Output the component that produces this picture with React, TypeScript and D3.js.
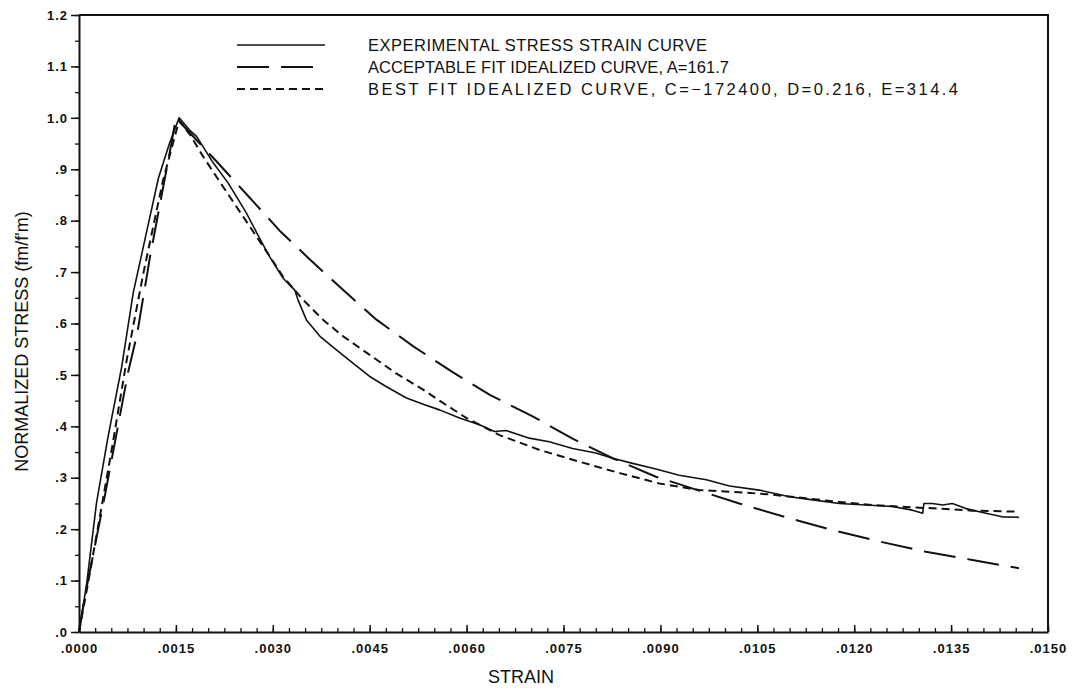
import * as d3 from "d3";
import React, { useEffect, useRef } from "react";

// experimental stress-strain curve
const expStrain = [0, 0.00012, 0.00027, 0.00045, 0.00066, 0.00084, 0.00102, 0.00123, 0.0014, 0.00155,
  0.00172, 0.00182, 0.00208, 0.00231, 0.00259, 0.00277, 0.00295, 0.00316, 0.00334, 0.00339,
  0.00352, 0.00373, 0.00398, 0.00424, 0.0045, 0.00476, 0.00507, 0.00535, 0.00558, 0.00589,
  0.0062, 0.00643, 0.00661, 0.00697, 0.00728, 0.00764, 0.008, 0.00826, 0.00857, 0.00893,
  0.00929, 0.00971, 0.01007, 0.01053, 0.011, 0.01136, 0.01177, 0.01218, 0.01259, 0.0129,
  0.01306, 0.01308, 0.01321, 0.01337, 0.01352, 0.01373, 0.01404, 0.01429, 0.01455];
const expStress = [0, 0.095, 0.25, 0.38, 0.515, 0.66, 0.763, 0.883, 0.95, 1.0,
  0.975, 0.964, 0.912, 0.873, 0.815, 0.772, 0.73, 0.688, 0.665, 0.646,
  0.607, 0.575, 0.549, 0.523, 0.497, 0.477, 0.455, 0.442, 0.432, 0.416,
  0.403, 0.39, 0.392, 0.377, 0.37, 0.357, 0.348, 0.338, 0.328, 0.317,
  0.305, 0.296, 0.284, 0.276, 0.263, 0.257, 0.25, 0.247, 0.244, 0.237,
  0.231, 0.25, 0.25, 0.247, 0.25, 0.24, 0.231, 0.224, 0.223];

// acceptable fit idealized curve, A=161.7
const accStrain = [0, 0.0001, 0.0004, 0.00076, 0.0009, 0.0011, 0.00143, 0.0015,
  0.00213, 0.00264, 0.00311, 0.00357, 0.00409, 0.0046, 0.00517, 0.00579, 0.00636, 0.00703,
  0.00764, 0.00826, 0.00893, 0.0096, 0.01022, 0.011, 0.01167, 0.01239, 0.01311, 0.01383, 0.01455];
const accStress = [0, 0.075, 0.265, 0.505, 0.58, 0.73, 0.95, 1.0,
  0.915, 0.845, 0.78, 0.725, 0.665, 0.608, 0.556, 0.505, 0.461, 0.419,
  0.376, 0.338, 0.302, 0.275, 0.25, 0.221, 0.198, 0.176, 0.156, 0.14, 0.124];

// best fit idealized curve, C=-172400, D=0.216, E=314.4
const bestStrain = [0, 0.00014, 0.0005, 0.00074, 0.001, 0.0013, 0.00155,
  0.00172, 0.00192, 0.00223, 0.00254, 0.00285, 0.00316, 0.00347, 0.00378, 0.00409, 0.0045,
  0.00491, 0.00532, 0.00558, 0.006, 0.00651, 0.00713, 0.00775, 0.00837, 0.00898, 0.0096,
  0.01022, 0.01074, 0.01125, 0.01177, 0.01228, 0.0128, 0.01331, 0.01383, 0.01455];
const bestStress = [0, 0.095, 0.35, 0.53, 0.7, 0.878, 0.995,
  0.967, 0.925, 0.866, 0.808, 0.75, 0.691, 0.646, 0.607, 0.575, 0.539,
  0.503, 0.472, 0.45, 0.416, 0.383, 0.354, 0.331, 0.309, 0.289, 0.276,
  0.272, 0.267, 0.26, 0.253, 0.247, 0.243, 0.24, 0.236, 0.234];

const xMajor = d3.range(0, 11).map((i) => i * 0.0015);
const xMinor = d3.range(0, 61).map((i) => i * 0.00025);
const yMajor = d3.range(0, 13).map((i) => i * 0.1);
const yMinor = d3.range(0, 25).map((i) => i * 0.05);

const legendLabels = [
  "EXPERIMENTAL STRESS STRAIN CURVE",
  "ACCEPTABLE FIT IDEALIZED CURVE, A=161.7",
  "BEST FIT IDEALIZED CURVE, C=\u2212172400, D=0.216, E=314.4",
];

const App = () => {
  const chartRef = useRef(null);

  useEffect(() => {
    drawChart();
    return () => {
      d3.select(chartRef.current).selectAll("*").remove();
    };
  }, []);

  const drawChart = () => {
    const width = 1077;
    const height = 690;
    const left = 79, right = 1048, top = 15, bottom = 632;
    const font = "'Liberation Sans', Arial, sans-serif";

    const svg = d3
      .select(chartRef.current)
      .append("svg")
      .attr("width", width)
      .attr("height", height)
      .style("position", "absolute")
      .style("left", 0)
      .style("top", 0)
      .style("background", "#fff");

    const x = d3.scaleLinear().domain([0, 0.015]).range([left, right]);
    const y = d3.scaleLinear().domain([0, 1.2]).range([bottom, top]);

    const fmtX = (v) => d3.format(".4f")(v).replace(/^0/, "");
    const fmtY = (v) => d3.format(".1f")(v).replace(/^0/, "");

    // y axis minor + major ticks (outward)
    const yMin = svg.append("g").attr("transform", `translate(${left},0)`)
      .call(d3.axisLeft(y).tickValues(yMinor).tickSize(4).tickFormat(() => ""));
    yMin.select(".domain").remove();
    yMin.selectAll("line").attr("stroke", "#111").attr("stroke-width", 1.3);

    const yAx = svg.append("g").attr("transform", `translate(${left},0)`)
      .call(d3.axisLeft(y).tickValues(yMajor).tickSize(8).tickSizeOuter(0).tickPadding(3).tickFormat(fmtY));
    yAx.select(".domain").attr("stroke", "#111").attr("stroke-width", 2);
    yAx.selectAll("line").attr("stroke", "#111").attr("stroke-width", 1.5);
    yAx.selectAll("text")
      .attr("font-family", font).attr("font-size", 13).attr("font-weight", "bold")
      .attr("letter-spacing", 1).attr("fill", "#111");

    // x axis minor + major ticks (inward)
    const xMin = svg.append("g").attr("transform", `translate(0,${bottom})`)
      .call(d3.axisBottom(x).tickValues(xMinor).tickSize(-4).tickFormat(() => ""));
    xMin.select(".domain").remove();
    xMin.selectAll("line").attr("stroke", "#111").attr("stroke-width", 1.3);

    const xAx = svg.append("g").attr("transform", `translate(0,${bottom})`)
      .call(d3.axisBottom(x).tickValues(xMajor).tickSize(-7).tickSizeOuter(0).tickPadding(12).tickFormat(fmtX));
    xAx.select(".domain").attr("stroke", "#111").attr("stroke-width", 2);
    xAx.selectAll("line").attr("stroke", "#111").attr("stroke-width", 1.5);
    xAx.selectAll("text")
      .attr("font-family", font).attr("font-size", 13).attr("font-weight", "bold")
      .attr("letter-spacing", 1).attr("fill", "#111");

    // top and right frame
    svg.append("path")
      .attr("d", `M${left},${top}H${right}V${bottom}`)
      .attr("fill", "none").attr("stroke", "#111").attr("stroke-width", 2);

    // curves
    const line = d3.line().x((d) => x(d[0])).y((d) => y(d[1]));
    const series = [
      { sx: expStrain, sy: expStress, dash: null, w: 1.6 },
      { sx: accStrain, sy: accStress, dash: "32,12", w: 2 },
      { sx: bestStrain, sy: bestStress, dash: "8,5", w: 2 },
    ];
    series.forEach((s) => {
      svg.append("path")
        .datum(s.sx.map((v, i) => [v, s.sy[i]]))
        .attr("d", line)
        .attr("fill", "none")
        .attr("stroke", "#111")
        .attr("stroke-width", s.w)
        .attr("stroke-linejoin", "round")
        .attr("stroke-dasharray", s.dash);
    });

    // legend
    const legendY = [45, 67, 89];
    const legendLen = [339, 361, 590];
    series.forEach((s, i) => {
      svg.append("line")
        .attr("x1", 237).attr("x2", 325)
        .attr("y1", legendY[i]).attr("y2", legendY[i])
        .attr("stroke", "#111").attr("stroke-width", s.w)
        .attr("stroke-dasharray", s.dash);
      svg.append("text")
        .attr("x", 368).attr("y", legendY[i] + 6)
        .attr("font-family", font).attr("font-size", 16.5)
        .attr("textLength", legendLen[i]).attr("lengthAdjust", "spacing")
        .attr("fill", "#111")
        .text(legendLabels[i]);
    });

    // axis titles
    svg.append("text")
      .attr("x", 521).attr("y", 683)
      .attr("text-anchor", "middle")
      .attr("font-family", font).attr("font-size", 18)
      .attr("fill", "#111")
      .text("STRAIN");

    svg.append("text")
      .attr("transform", `translate(28,${(top + bottom) / 2 + 18}) rotate(-90)`)
      .attr("text-anchor", "middle")
      .attr("font-family", font).attr("font-size", 18)
      .attr("fill", "#111")
      .text("NORMALIZED STRESS (fm/f'm)");
  };

  return <div ref={chartRef} />;
};

export default App;
